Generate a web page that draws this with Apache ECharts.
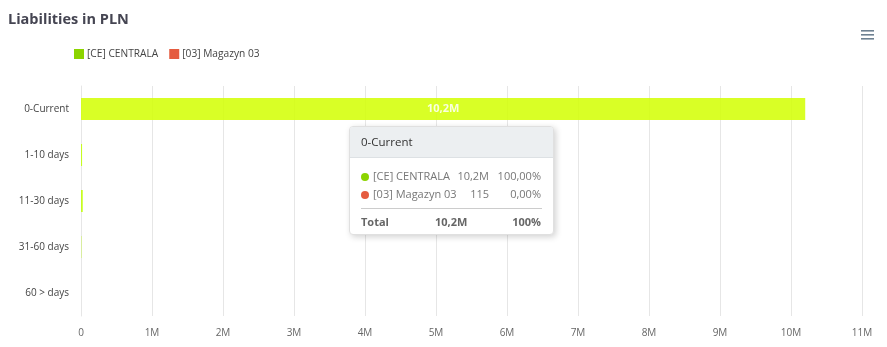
<!DOCTYPE html>
<html>
<head>
<meta charset="utf-8">
<script src="https://cdn.jsdelivr.net/npm/echarts@6/dist/echarts.min.js"></script>
<style>
  html, body { margin: 0; padding: 0; background: #fff; }
  #chart { width: 887px; height: 347px; }
  .tt, .tt table, .tt td { font-family: "Open Sans", "Noto Sans", sans-serif; font-size: 11px; line-height: 18px; }
  .tt table { border-collapse: collapse; table-layout: fixed; }
  .tt td { padding: 0; white-space: nowrap; }
</style>
</head>
<body>
<div id="chart"></div>
<script>
// Ageing buckets of liabilities, in PLN
const categories = ['0-Current', '1-10 days', '11-30 days', '31-60 days', '60 > days'];
const seriesNames = ['[CE] CENTRALA', '[03] Magazyn 03'];
const centralaValues = [10200000, 15000, 25000, 5000, 0];
const magazynValues = [115, 0, 0, 0, 0];
const xTickValues = [0, 1e6, 2e6, 3e6, 4e6, 5e6, 6e6, 7e6, 8e6, 9e6, 10e6, 11e6];

const FONT = '"Open Sans", "Noto Sans", sans-serif';
const barLime = '#bfff00';
const legendGreen = '#8cd400';
const magazynRed = '#e55b3f';

function fmtShort(v) {
  if (v >= 1e6) return (v / 1e6).toFixed(1).replace('.', ',') + 'M';
  if (v >= 1e3) return (v / 1e3).toFixed(1).replace('.', ',') + 'K';
  return String(v);
}
function fmtPct(p, digits) {
  return p.toFixed(digits).replace('.', ',') + '%';
}

function tooltipHtml(idx) {
  const a = centralaValues[idx], b = magazynValues[idx];
  const total = a + b;
  const rows = [
    [seriesNames[0], a, legendGreen],
    [seriesNames[1], b, magazynRed]
  ].map(r => `
    <tr>
      <td style="width:12px"><span style="display:inline-block;width:8px;height:8px;border-radius:50%;background:${r[2]};vertical-align:-1px"></span></td>
      <td style="width:80px;color:#777">${r[0]}</td>
      <td style="width:36px;text-align:right;color:#777">${fmtShort(r[1])}</td>
      <td style="width:52px;text-align:right;color:#777">${fmtPct(total ? r[1] / total * 100 : 0, 2)}</td>
    </tr>`).join('');
  return `
  <div class="tt" style="width:203px">
    <div style="background:#eceff1;border-bottom:1px solid #dde1e4;padding:0 11px;height:30px;line-height:30px;color:#333;font-size:11.5px">${categories[idx]}</div>
    <div style="padding:9px 11px 0 11px">
      <table style="width:180px">${rows}</table>
      <div style="border-top:1px solid #ccc;margin-top:5px;width:181px"></div>
      <table style="width:180px">
        <tr style="height:25px">
          <td style="width:74px;font-weight:bold;color:#666">Total</td>
          <td style="width:50px;font-weight:bold;color:#666">${fmtShort(total)}</td>
          <td style="width:56px;text-align:right;font-weight:bold;color:#666">100%</td>
        </tr>
      </table>
    </div>
  </div>`;
}

const chart = echarts.init(document.getElementById('chart'), null, { renderer: 'canvas' });

chart.setOption({
  animation: false,
  backgroundColor: '#fff',
  textStyle: { fontFamily: FONT },
  title: {
    text: 'Liabilities in PLN',
    left: 3, top: 7,
    textStyle: { fontFamily: FONT, fontSize: 14.5, fontWeight: 'bold', color: '#454552' }
  },
  legend: {
    left: 69, top: 44,
    icon: 'rect', itemWidth: 10, itemHeight: 10, itemGap: 11,
    textStyle: { fontFamily: FONT, fontSize: 10.2, color: '#444', padding: [0, 0, 0, -2] },
    data: [
      { name: seriesNames[0], itemStyle: { color: legendGreen } },
      { name: seriesNames[1], itemStyle: { color: magazynRed } }
    ]
  },
  grid: { left: 81, right: 25, top: 86, bottom: 31, containLabel: false },
  tooltip: {
    trigger: 'axis',
    axisPointer: { type: 'none' },
    alwaysShowContent: true,
    transitionDuration: 0,
    padding: 0,
    backgroundColor: '#fff',
    borderColor: '#e0e0e0',
    borderWidth: 1,
    extraCssText: 'border-radius:4px;box-shadow:2px 2px 6px rgba(0,0,0,0.18);overflow:hidden;',
    position: function () { return [349, 126]; },
    formatter: function (params) { return tooltipHtml(params[0].dataIndex); }
  },
  xAxis: {
    type: 'value',
    min: xTickValues[0],
    max: xTickValues[xTickValues.length - 1],
    interval: xTickValues[1] - xTickValues[0],
    axisLine: { show: false },
    axisTick: { show: false },
    splitLine: { show: true, lineStyle: { color: '#e6e6e6', width: 1 } },
    axisLabel: {
      color: '#666', fontSize: 10, margin: 12, fontFamily: FONT,
      formatter: v => v === 0 ? '0' : (v / 1e6) + 'M'
    }
  },
  yAxis: {
    type: 'category',
    data: categories,
    inverse: true,
    axisLine: { show: true, lineStyle: { color: '#e6e6e6' } },
    axisTick: { show: false },
    axisLabel: { color: '#444', fontSize: 10, margin: 12, fontFamily: FONT }
  },
  graphic: [
    { type: 'rect', left: 861, top: 30, shape: { width: 13, height: 1.6 }, style: { fill: '#6e8192' } },
    { type: 'rect', left: 861, top: 34, shape: { width: 13, height: 1.6 }, style: { fill: '#6e8192' } },
    { type: 'rect', left: 861, top: 38, shape: { width: 13, height: 1.6 }, style: { fill: '#6e8192' } }
  ],
  series: [
    {
      name: seriesNames[0],
      type: 'bar',
      stack: 'total',
      barWidth: '48%',
      itemStyle: { color: legendGreen },
      data: centralaValues.map(v => ({ value: v, itemStyle: { color: barLime, opacity: 0.85 } })),
      label: {
        show: true,
        position: 'inside',
        color: '#fff',
        fontWeight: 'bold',
        fontSize: 11,
        fontFamily: FONT,
        formatter: p => p.value >= 1e6 ? fmtShort(p.value) : ''
      }
    },
    {
      name: seriesNames[1],
      type: 'bar',
      stack: 'total',
      barWidth: '48%',
      itemStyle: { color: magazynRed },
      data: magazynValues
    }
  ]
});

chart.dispatchAction({ type: 'showTip', seriesIndex: 0, dataIndex: 0 });
</script>
</body>
</html>
